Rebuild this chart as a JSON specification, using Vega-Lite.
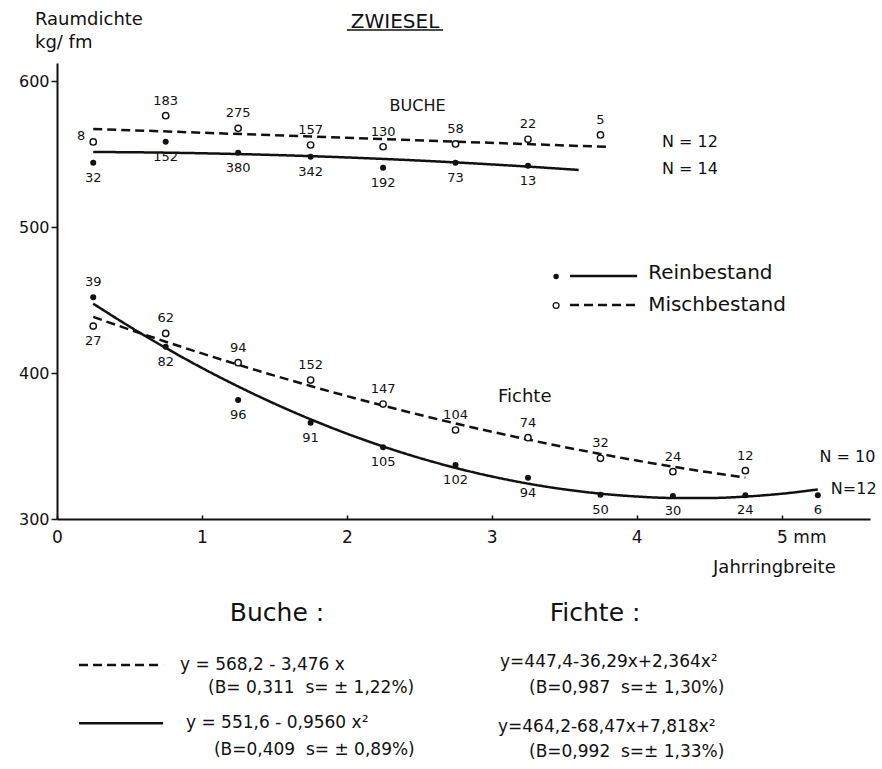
{
  "$schema": "https://vega.github.io/schema/vega-lite/v6.json",
  "width": 813,
  "height": 456,
  "autosize": "none",
  "padding": {"left": 57, "top": 63, "right": 12, "bottom": 250},
  "background": "white",
  "config": {
    "view": {"stroke": null},
    "font": "DejaVu Sans",
    "text": {"color": "#111", "font": "DejaVu Sans"},
    "axis": {"grid": false, "title": null, "domainColor": "#111", "tickColor": "#111", "labelColor": "#111", "labelFont": "DejaVu Sans", "labelFontSize": 16, "domainWidth": 2, "tickWidth": 1.5}
  },
  "datasets": {
    "messpunkte": [
      {"art": "Buche", "stand": "Misch", "x": 0.25, "y": 558.4, "n": 8},
      {"art": "Buche", "stand": "Misch", "x": 0.75, "y": 576.4, "n": 183},
      {"art": "Buche", "stand": "Misch", "x": 1.25, "y": 567.7, "n": 275},
      {"art": "Buche", "stand": "Misch", "x": 1.75, "y": 556.3, "n": 157},
      {"art": "Buche", "stand": "Misch", "x": 2.25, "y": 555.1, "n": 130},
      {"art": "Buche", "stand": "Misch", "x": 2.75, "y": 557.0, "n": 58},
      {"art": "Buche", "stand": "Misch", "x": 3.25, "y": 560.2, "n": 22},
      {"art": "Buche", "stand": "Misch", "x": 3.75, "y": 563.2, "n": 5},
      {"art": "Buche", "stand": "Rein", "x": 0.25, "y": 544.2, "n": 32},
      {"art": "Buche", "stand": "Rein", "x": 0.75, "y": 558.6, "n": 152},
      {"art": "Buche", "stand": "Rein", "x": 1.25, "y": 551.0, "n": 380},
      {"art": "Buche", "stand": "Rein", "x": 1.75, "y": 548.3, "n": 342},
      {"art": "Buche", "stand": "Rein", "x": 2.25, "y": 540.7, "n": 192},
      {"art": "Buche", "stand": "Rein", "x": 2.75, "y": 544.2, "n": 73},
      {"art": "Buche", "stand": "Rein", "x": 3.25, "y": 542.1, "n": 13},
      {"art": "Fichte", "stand": "Misch", "x": 0.25, "y": 432.2, "n": 27},
      {"art": "Fichte", "stand": "Misch", "x": 0.75, "y": 427.2, "n": 62},
      {"art": "Fichte", "stand": "Misch", "x": 1.25, "y": 407.1, "n": 94},
      {"art": "Fichte", "stand": "Misch", "x": 1.75, "y": 395.2, "n": 152},
      {"art": "Fichte", "stand": "Misch", "x": 2.25, "y": 378.8, "n": 147},
      {"art": "Fichte", "stand": "Misch", "x": 2.75, "y": 361.0, "n": 104},
      {"art": "Fichte", "stand": "Misch", "x": 3.25, "y": 355.7, "n": 74},
      {"art": "Fichte", "stand": "Misch", "x": 3.75, "y": 341.6, "n": 32},
      {"art": "Fichte", "stand": "Misch", "x": 4.25, "y": 332.4, "n": 24},
      {"art": "Fichte", "stand": "Misch", "x": 4.75, "y": 333.1, "n": 12},
      {"art": "Fichte", "stand": "Rein", "x": 0.25, "y": 451.9, "n": 39},
      {"art": "Fichte", "stand": "Rein", "x": 0.75, "y": 418.1, "n": 82},
      {"art": "Fichte", "stand": "Rein", "x": 1.25, "y": 381.5, "n": 96},
      {"art": "Fichte", "stand": "Rein", "x": 1.75, "y": 366.0, "n": 91},
      {"art": "Fichte", "stand": "Rein", "x": 2.25, "y": 349.1, "n": 105},
      {"art": "Fichte", "stand": "Rein", "x": 2.75, "y": 337.0, "n": 102},
      {"art": "Fichte", "stand": "Rein", "x": 3.25, "y": 328.3, "n": 94},
      {"art": "Fichte", "stand": "Rein", "x": 3.75, "y": 316.6, "n": 50},
      {"art": "Fichte", "stand": "Rein", "x": 4.25, "y": 315.7, "n": 30},
      {"art": "Fichte", "stand": "Rein", "x": 4.75, "y": 316.2, "n": 24},
      {"art": "Fichte", "stand": "Rein", "x": 5.25, "y": 316.2, "n": 6}
    ],
    "ausgleich": [
      {"art": "Buche", "stand": "Misch", "x": 0.25, "y": 567.33},
      {"art": "Buche", "stand": "Misch", "x": 3.8, "y": 554.99},
      {"art": "Buche", "stand": "Rein", "x": 0.25, "y": 551.54},
      {"art": "Buche", "stand": "Rein", "x": 0.75, "y": 551.06},
      {"art": "Buche", "stand": "Rein", "x": 1.25, "y": 550.11},
      {"art": "Buche", "stand": "Rein", "x": 1.75, "y": 548.67},
      {"art": "Buche", "stand": "Rein", "x": 2.25, "y": 546.76},
      {"art": "Buche", "stand": "Rein", "x": 2.75, "y": 544.37},
      {"art": "Buche", "stand": "Rein", "x": 3.25, "y": 541.5},
      {"art": "Buche", "stand": "Rein", "x": 3.6, "y": 539.21},
      {"art": "Fichte", "stand": "Misch", "x": 0.25, "y": 438.48},
      {"art": "Fichte", "stand": "Misch", "x": 0.5, "y": 429.85},
      {"art": "Fichte", "stand": "Misch", "x": 0.75, "y": 421.51},
      {"art": "Fichte", "stand": "Misch", "x": 1.0, "y": 413.47},
      {"art": "Fichte", "stand": "Misch", "x": 1.25, "y": 405.73},
      {"art": "Fichte", "stand": "Misch", "x": 1.5, "y": 398.28},
      {"art": "Fichte", "stand": "Misch", "x": 1.75, "y": 391.13},
      {"art": "Fichte", "stand": "Misch", "x": 2.0, "y": 384.28},
      {"art": "Fichte", "stand": "Misch", "x": 2.25, "y": 377.72},
      {"art": "Fichte", "stand": "Misch", "x": 2.5, "y": 371.45},
      {"art": "Fichte", "stand": "Misch", "x": 2.75, "y": 365.48},
      {"art": "Fichte", "stand": "Misch", "x": 3.0, "y": 359.81},
      {"art": "Fichte", "stand": "Misch", "x": 3.25, "y": 354.43},
      {"art": "Fichte", "stand": "Misch", "x": 3.5, "y": 349.34},
      {"art": "Fichte", "stand": "Misch", "x": 3.75, "y": 344.56},
      {"art": "Fichte", "stand": "Misch", "x": 4.0, "y": 340.06},
      {"art": "Fichte", "stand": "Misch", "x": 4.25, "y": 335.87},
      {"art": "Fichte", "stand": "Misch", "x": 4.5, "y": 331.97},
      {"art": "Fichte", "stand": "Misch", "x": 4.75, "y": 328.36},
      {"art": "Fichte", "stand": "Rein", "x": 0.25, "y": 447.57},
      {"art": "Fichte", "stand": "Rein", "x": 0.5, "y": 431.92},
      {"art": "Fichte", "stand": "Rein", "x": 0.75, "y": 417.25},
      {"art": "Fichte", "stand": "Rein", "x": 1.0, "y": 403.55},
      {"art": "Fichte", "stand": "Rein", "x": 1.25, "y": 390.83},
      {"art": "Fichte", "stand": "Rein", "x": 1.5, "y": 379.09},
      {"art": "Fichte", "stand": "Rein", "x": 1.75, "y": 368.32},
      {"art": "Fichte", "stand": "Rein", "x": 2.0, "y": 358.53},
      {"art": "Fichte", "stand": "Rein", "x": 2.25, "y": 349.72},
      {"art": "Fichte", "stand": "Rein", "x": 2.5, "y": 341.89},
      {"art": "Fichte", "stand": "Rein", "x": 2.75, "y": 335.03},
      {"art": "Fichte", "stand": "Rein", "x": 3.0, "y": 329.15},
      {"art": "Fichte", "stand": "Rein", "x": 3.25, "y": 324.25},
      {"art": "Fichte", "stand": "Rein", "x": 3.5, "y": 320.33},
      {"art": "Fichte", "stand": "Rein", "x": 3.75, "y": 317.38},
      {"art": "Fichte", "stand": "Rein", "x": 4.0, "y": 315.41},
      {"art": "Fichte", "stand": "Rein", "x": 4.25, "y": 314.42},
      {"art": "Fichte", "stand": "Rein", "x": 4.5, "y": 314.4},
      {"art": "Fichte", "stand": "Rein", "x": 4.75, "y": 315.36},
      {"art": "Fichte", "stand": "Rein", "x": 5.0, "y": 317.3},
      {"art": "Fichte", "stand": "Rein", "x": 5.25, "y": 320.21}
    ],
    "striche": [
      {"rolle": "unterstrich", "stand": "Rein", "x": 2.0, "x2": 2.664, "y": 635.1},
      {"rolle": "legende", "stand": "Rein", "x": 3.54, "x2": 4.003, "y": 466.5},
      {"rolle": "legende", "stand": "Misch", "x": 3.54, "x2": 4.003, "y": 446.6},
      {"rolle": "formel", "stand": "Misch", "x": 0.152, "x2": 0.732, "y": 200.0},
      {"rolle": "formel", "stand": "Rein", "x": 0.152, "x2": 0.732, "y": 160.1}
    ],
    "symbole": [
      {"stand": "Rein", "x": 3.444, "y": 466.2},
      {"stand": "Misch", "x": 3.444, "y": 446.3}
    ],
    "texte": [
      {"rolle": "achse", "text": "Raumdichte", "x": -0.152, "y": 642.0},
      {"rolle": "achse", "text": "kg/ fm", "x": -0.152, "y": 626.2},
      {"rolle": "achse", "text": "Jahrringbreite", "x": 4.527, "y": 266.4},
      {"rolle": "titel", "text": "ZWIESEL", "x": 2.333, "y": 640.6},
      {"rolle": "gruppe-klein", "text": "BUCHE", "x": 2.488, "y": 583.0},
      {"rolle": "gruppe", "text": "Fichte", "x": 3.043, "y": 383.6},
      {"rolle": "anzahl", "text": "N = 12", "x": 4.175, "y": 558.6},
      {"rolle": "anzahl", "text": "N = 14", "x": 4.175, "y": 539.6},
      {"rolle": "anzahl", "text": "N = 10", "x": 5.262, "y": 342.7},
      {"rolle": "anzahl", "text": "N=12", "x": 5.34, "y": 320.3},
      {"rolle": "legende", "text": "Reinbestand", "x": 4.079, "y": 468.6},
      {"rolle": "legende", "text": "Mischbestand", "x": 4.079, "y": 446.6},
      {"rolle": "kopf", "text": "Buche :", "x": 1.518, "y": 235.5},
      {"rolle": "kopf", "text": "Fichte :", "x": 3.713, "y": 235.5},
      {"rolle": "formel", "text": "y = 568,2 - 3,476 x", "x": 0.849, "y": 200.0},
      {"rolle": "formel", "text": "(B= 0,311  \u00a0s= ± 1,22%)", "x": 1.042, "y": 184.1},
      {"rolle": "formel", "text": "y = 551,6 - 0,9560 x²", "x": 0.89, "y": 160.1},
      {"rolle": "formel", "text": "(B=0,409 \u00a0s= ± 0,89%)", "x": 1.083, "y": 141.6},
      {"rolle": "formel", "text": "y=447,4-36,29x+2,364x²", "x": 3.057, "y": 202.0},
      {"rolle": "formel", "text": "(B=0,987 \u00a0s=± 1,30%)", "x": 3.257, "y": 184.1},
      {"rolle": "formel", "text": "y=464,2-68,47x+7,818x²", "x": 3.043, "y": 157.4},
      {"rolle": "formel", "text": "(B=0,992 \u00a0s=± 1,33%)", "x": 3.257, "y": 140.3}
    ]
  },
  "encoding": {
    "x": {
      "field": "x",
      "type": "quantitative",
      "scale": {"domain": [0, 5.61], "nice": false, "zero": false},
      "axis": {
        "values": [0, 1, 2, 3, 4, 5],
        "labelExpr": "datum.value === 5 ? '5 mm' : datum.label",
        "labelAlign": {"condition": {"test": "datum.value === 5", "value": "left"}, "value": "center"},
        "labelOffset": {"condition": {"test": "datum.value === 5", "value": -5}, "value": 0},
        "tickSize": -4,
        "labelPadding": 14,
        "labelFontSize": 17
      }
    },
    "y": {
      "field": "y",
      "type": "quantitative",
      "scale": {"domain": [300, 612.5], "nice": false, "zero": false},
      "axis": {"values": [300, 400, 500, 600], "tickSize": 6, "labelPadding": 2, "labelFontSize": 16}
    }
  },
  "layer": [
    {
      "data": {"name": "ausgleich"},
      "mark": {"type": "line", "interpolate": "monotone", "color": "#111", "strokeWidth": 2.5},
      "encoding": {
        "detail": {"field": "art", "type": "nominal"},
        "strokeDash": {"field": "stand", "type": "nominal", "scale": {"domain": ["Rein", "Misch"], "range": [[1, 0], [9, 5]]}, "legend": null}
      }
    },
    {
      "data": {"name": "messpunkte"},
      "transform": [{"filter": "datum.stand === 'Rein'"}],
      "mark": {"type": "point", "shape": "circle", "filled": true, "color": "#111", "size": 36, "opacity": 1}
    },
    {
      "data": {"name": "messpunkte"},
      "transform": [{"filter": "datum.stand === 'Misch'"}],
      "mark": {"type": "point", "shape": "circle", "filled": true, "fill": "white", "stroke": "#111", "strokeWidth": 1.4, "size": 40, "opacity": 1}
    },
    {
      "data": {"name": "messpunkte"},
      "transform": [{"filter": "(datum.stand === 'Misch' && datum.x !== 0.25) || (datum.stand === 'Rein' && datum.art === 'Fichte' && datum.x === 0.25)"}],
      "mark": {"type": "text", "fontSize": 13, "dy": -15, "baseline": "middle", "align": "center"},
      "encoding": {"text": {"field": "n", "type": "nominal"}}
    },
    {
      "data": {"name": "messpunkte"},
      "transform": [{"filter": "(datum.stand === 'Rein' && !(datum.art === 'Fichte' && datum.x === 0.25)) || (datum.stand === 'Misch' && datum.art === 'Fichte' && datum.x === 0.25)"}],
      "mark": {"type": "text", "fontSize": 13, "dy": 15, "baseline": "middle", "align": "center"},
      "encoding": {"text": {"field": "n", "type": "nominal"}}
    },
    {
      "data": {"name": "messpunkte"},
      "transform": [{"filter": "datum.stand === 'Misch' && datum.art === 'Buche' && datum.x === 0.25"}],
      "mark": {"type": "text", "fontSize": 13, "dx": -8, "dy": -6, "baseline": "middle", "align": "right"},
      "encoding": {"text": {"field": "n", "type": "nominal"}}
    },
    {
      "data": {"name": "striche"},
      "transform": [{"filter": "datum.rolle === 'unterstrich'"}],
      "mark": {"type": "rule", "color": "#111", "strokeWidth": 1.6},
      "encoding": {"x2": {"field": "x2"}}
    },
    {
      "data": {"name": "striche"},
      "transform": [{"filter": "datum.rolle !== 'unterstrich'"}],
      "mark": {"type": "rule", "color": "#111", "strokeWidth": 2.5},
      "encoding": {
        "x2": {"field": "x2"},
        "strokeDash": {"field": "stand", "type": "nominal", "scale": {"domain": ["Rein", "Misch"], "range": [[1, 0], [9, 5]]}, "legend": null}
      }
    },
    {
      "data": {"name": "symbole"},
      "transform": [{"filter": "datum.stand === 'Rein'"}],
      "mark": {"type": "point", "shape": "circle", "filled": true, "color": "#111", "size": 30, "opacity": 1}
    },
    {
      "data": {"name": "symbole"},
      "transform": [{"filter": "datum.stand === 'Misch'"}],
      "mark": {"type": "point", "shape": "circle", "filled": true, "fill": "white", "stroke": "#111", "strokeWidth": 1.3, "size": 34, "opacity": 1}
    },
    {
      "data": {"name": "texte"},
      "transform": [{"filter": "datum.rolle === 'achse'"}],
      "mark": {"type": "text", "fontSize": 18, "align": "left", "baseline": "middle"},
      "encoding": {"text": {"field": "text"}}
    },
    {
      "data": {"name": "texte"},
      "transform": [{"filter": "datum.rolle === 'titel'"}],
      "mark": {"type": "text", "fontSize": 20, "align": "center", "baseline": "middle"},
      "encoding": {"text": {"field": "text"}}
    },
    {
      "data": {"name": "texte"},
      "transform": [{"filter": "datum.rolle === 'gruppe-klein'"}],
      "mark": {"type": "text", "fontSize": 16, "align": "center", "baseline": "middle"},
      "encoding": {"text": {"field": "text"}}
    },
    {
      "data": {"name": "texte"},
      "transform": [{"filter": "datum.rolle === 'gruppe'"}],
      "mark": {"type": "text", "fontSize": 18, "align": "left", "baseline": "middle"},
      "encoding": {"text": {"field": "text"}}
    },
    {
      "data": {"name": "texte"},
      "transform": [{"filter": "datum.rolle === 'anzahl'"}],
      "mark": {"type": "text", "fontSize": 16, "align": "left", "baseline": "middle"},
      "encoding": {"text": {"field": "text"}}
    },
    {
      "data": {"name": "texte"},
      "transform": [{"filter": "datum.rolle === 'legende'"}],
      "mark": {"type": "text", "fontSize": 20, "align": "left", "baseline": "middle"},
      "encoding": {"text": {"field": "text"}}
    },
    {
      "data": {"name": "texte"},
      "transform": [{"filter": "datum.rolle === 'kopf'"}],
      "mark": {"type": "text", "fontSize": 25, "align": "center", "baseline": "middle"},
      "encoding": {"text": {"field": "text"}}
    },
    {
      "data": {"name": "texte"},
      "transform": [{"filter": "datum.rolle === 'formel'"}],
      "mark": {"type": "text", "fontSize": 17, "align": "left", "baseline": "middle"},
      "encoding": {"text": {"field": "text"}}
    }
  ]
}
